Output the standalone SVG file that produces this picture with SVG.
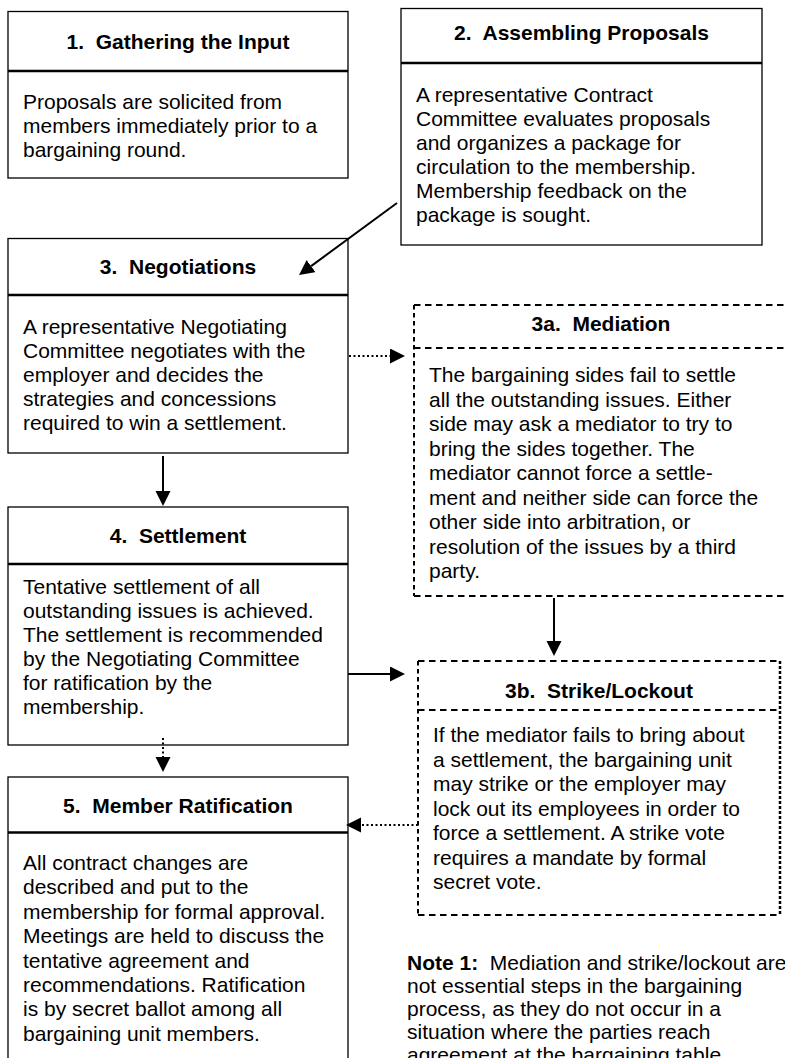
<svg xmlns="http://www.w3.org/2000/svg" width="785" height="1058" viewBox="0 0 785 1058">
<style>
.bx{fill:#fff;stroke:#000;stroke-width:1.3}
.dv{stroke:#000;stroke-width:2.6}
.t{font-family:"Liberation Sans",Arial,sans-serif;font-size:21px;fill:#000;white-space:pre}
.h{font-weight:bold;text-anchor:middle}
.dh{stroke:#000;stroke-width:2;stroke-dasharray:6.5 4.5;fill:none}
.dl{stroke:#000;stroke-width:2;stroke-dasharray:4.5 3.5;fill:none}
.dr{stroke:#000;stroke-width:2.5;stroke-dasharray:3 2;fill:none}
.ar{stroke:#000;stroke-width:2;fill:none}
.dot{stroke-dasharray:2 2.5}
</style>
<defs>
<marker id="ah" markerUnits="userSpaceOnUse" markerWidth="16" markerHeight="16" refX="0" refY="7.5" orient="auto"><path d="M0,0 L15,7.5 L0,15 z" fill="#000"/></marker>
</defs>
<rect width="785" height="1058" fill="#fff"/>

<g id="node1">
<rect class="bx" x="8" y="11.5" width="340" height="166.5"/>
<line class="dv" x1="8" y1="71" x2="348" y2="71"/>
<text class="t h" x="178" y="48.5">1.  Gathering the Input</text>
<text class="t" x="23" y="108.5">Proposals are solicited from</text>
<text class="t" x="23" y="132.5">members immediately prior to a</text>
<text class="t" x="23" y="156.5">bargaining round.</text>
</g>

<g id="node2">
<rect class="bx" x="401" y="8.5" width="361" height="236.5"/>
<line class="dv" x1="401" y1="63" x2="762" y2="63"/>
<text class="t h" x="581.5" y="39.5">2.  Assembling Proposals</text>
<text class="t" x="416" y="102">A representative Contract</text>
<text class="t" x="416" y="126">Committee evaluates proposals</text>
<text class="t" x="416" y="150">and organizes a package for</text>
<text class="t" x="416" y="174">circulation to the membership.</text>
<text class="t" x="416" y="198">Membership feedback on the</text>
<text class="t" x="416" y="222">package is sought.</text>
</g>

<g id="node3">
<rect class="bx" x="8" y="238.5" width="340" height="214.5"/>
<line class="dv" x1="8" y1="295" x2="348" y2="295"/>
<text class="t h" x="178" y="273.5">3.  Negotiations</text>
<text class="t" x="23" y="334">A representative Negotiating</text>
<text class="t" x="23" y="358">Committee negotiates with the</text>
<text class="t" x="23" y="382">employer and decides the</text>
<text class="t" x="23" y="406">strategies and concessions</text>
<text class="t" x="23" y="430">required to win a settlement.</text>
</g>

<g id="node3a">
<line class="dh" x1="414" y1="305" x2="790" y2="305"/>
<line class="dh" x1="414" y1="348" x2="790" y2="348"/>
<line class="dh" x1="414" y1="596" x2="790" y2="596"/>
<line class="dl" x1="414" y1="305" x2="414" y2="596"/>
<text class="t h" x="601" y="331">3a.  Mediation</text>
<text class="t" x="429" y="382">The bargaining sides fail to settle</text>
<text class="t" x="429" y="406.5">all the outstanding issues. Either</text>
<text class="t" x="429" y="431">side may ask a mediator to try to</text>
<text class="t" x="429" y="455.5">bring the sides together. The</text>
<text class="t" x="429" y="480">mediator cannot force a settle-</text>
<text class="t" x="429" y="504.5">ment and neither side can force the</text>
<text class="t" x="429" y="529">other side into arbitration, or</text>
<text class="t" x="429" y="553.5">resolution of the issues by a third</text>
<text class="t" x="429" y="578">party.</text>
</g>

<g id="node4">
<rect class="bx" x="8" y="507" width="340" height="238"/>
<line class="dv" x1="8" y1="564" x2="348" y2="564"/>
<text class="t h" x="178" y="542.5">4.  Settlement</text>
<text class="t" x="23" y="594">Tentative settlement of all</text>
<text class="t" x="23" y="618">outstanding issues is achieved.</text>
<text class="t" x="23" y="642">The settlement is recommended</text>
<text class="t" x="23" y="666">by the Negotiating Committee</text>
<text class="t" x="23" y="690">for ratification by the</text>
<text class="t" x="23" y="714">membership.</text>
</g>

<g id="node3b">
<line class="dh" x1="418" y1="661" x2="780" y2="661"/>
<line class="dh" x1="418" y1="710" x2="780" y2="710"/>
<line class="dh" x1="418" y1="915" x2="780" y2="915"/>
<line class="dl" x1="418" y1="661" x2="418" y2="915"/>
<line class="dr" x1="780" y1="661" x2="780" y2="915"/>
<text class="t h" x="599" y="697.5">3b.  Strike/Lockout</text>
<text class="t" x="433" y="742">If the mediator fails to bring about</text>
<text class="t" x="433" y="766.5">a settlement, the bargaining unit</text>
<text class="t" x="433" y="791">may strike or the employer may</text>
<text class="t" x="433" y="815.5">lock out its employees in order to</text>
<text class="t" x="433" y="840">force a settlement. A strike vote</text>
<text class="t" x="433" y="864.5">requires a mandate by formal</text>
<text class="t" x="433" y="889">secret vote.</text>
</g>

<g id="node5">
<rect class="bx" x="8" y="777" width="340" height="290"/>
<line class="dv" x1="8" y1="832.5" x2="348" y2="832.5"/>
<text class="t h" x="178" y="812.5">5.  Member Ratification</text>
<text class="t" x="23" y="870">All contract changes are</text>
<text class="t" x="23" y="894.4">described and put to the</text>
<text class="t" x="23" y="918.8">membership for formal approval.</text>
<text class="t" x="23" y="943.2">Meetings are held to discuss the</text>
<text class="t" x="23" y="967.6">tentative agreement and</text>
<text class="t" x="23" y="992">recommendations. Ratification</text>
<text class="t" x="23" y="1016.4">is by secret ballot among all</text>
<text class="t" x="23" y="1040.8">bargaining unit members.</text>
</g>

<g id="note">
<text class="t" x="407" y="970"><tspan font-weight="bold">Note 1:</tspan>  Mediation and strike/lockout are</text>
<text class="t" x="407" y="993">not essential steps in the bargaining</text>
<text class="t" x="407" y="1016">process, as they do not occur in a</text>
<text class="t" x="407" y="1039">situation where the parties reach</text>
<text class="t" x="407" y="1062">agreement at the bargaining table.</text>
</g>

<g id="connectors">
<line class="ar" x1="397" y1="203" x2="311.1" y2="266.1" marker-end="url(#ah)"/>
<line class="ar dot" x1="349" y1="356" x2="390" y2="356" marker-end="url(#ah)"/>
<line class="ar" x1="163" y1="456" x2="163" y2="491" marker-end="url(#ah)"/>
<line class="ar" x1="554" y1="598" x2="554" y2="641" marker-end="url(#ah)"/>
<line class="ar" x1="348" y1="674" x2="390" y2="674" marker-end="url(#ah)"/>
<line class="ar dot" x1="163" y1="738" x2="163" y2="757" marker-end="url(#ah)"/>
<line class="ar dot" x1="418" y1="825" x2="361" y2="825" marker-end="url(#ah)"/>
</g>
</svg>
